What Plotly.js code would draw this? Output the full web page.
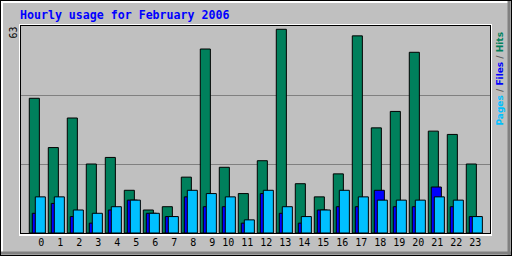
<!DOCTYPE html>
<html>
<head>
<meta charset="utf-8">
<script src="https://cdn.plot.ly/plotly-3.0.1.min.js"></script>
<style>html,body{margin:0;padding:0;background:#C0C0C0;}#chart{width:512px;height:256px;}</style>
</head>
<body>
<div id="chart"></div>
<script>
// Data
var hours = [0,1,2,3,4,5,6,7,8,9,10,11,12,13,14,15,16,17,18,19,20,21,22,23];
var hourLabels = hours.map(function(h){ return h >= 10 ? h + '\u00a0' : String(h); });
var hits  = [41,26,35,21,23,13,7,8,17,56,20,12,22,62,15,11,18,60,32,37,55,31,30,21];
var files = [6,9,5,3,7,10,6,5,11,8,8,3,12,6,3,7,8,8,13,8,8,14,8,5];
var pages = [11,11,7,6,8,10,6,5,13,12,11,4,13,8,5,7,13,11,10,10,10,11,10,5];
var maxLabel = '63';
var gridVals = [21, 42];

// geometry helpers (pixel -> paper)
var L = 20, R = 490, T = 25, B = 233;
function px(X){ return (X - L) / (R - L); }
function py(Y){ return (B - Y) / (B - T); }
function hline(y, x0, x1, c, w){ return {type:'line', xref:'paper', yref:'paper', x0:px(x0), x1:px(x1), y0:py(y), y1:py(y), line:{color:c, width:w||1}, layer:'above'}; }
function vline(x, y0, y1, c, w){ return {type:'line', xref:'paper', yref:'paper', x0:px(x), x1:px(x), y0:py(y0), y1:py(y1), line:{color:c, width:w||1}, layer:'above'}; }

var shapes = [
  // outer frame
  hline(0.5, 0, 512, '#000000'), vline(0.5, 0, 256, '#000000'),
  hline(2, 1, 510, '#FFFFFF', 2), vline(2, 1, 254, '#FFFFFF', 2),
  hline(253, 1, 511, '#808080', 3), vline(509, 1, 255, '#808080', 3),
  hline(255.5, 0, 512, '#000000'), vline(511.5, 0, 256, '#000000'),
  // plot frame
  hline(24.5, 19, 492, '#FFFFFF'), vline(19.5, 24, 236, '#FFFFFF'),
  hline(235, 19, 492, '#FFFFFF', 2), vline(491.5, 24, 236, '#FFFFFF'),
  hline(25.5, 20, 491, '#000000'), vline(20.5, 25, 234, '#000000'),
  hline(233.5, 20, 491, '#000000'), vline(490.5, 25, 234, '#000000')
];

var W = 0.53;
var traces = [
  {type:'bar', x:hours, y:hits, offset:-0.632, width:W, marker:{color:'#00805C', line:{color:'#000000', width:1}}, name:'Hits'},
  {type:'bar', x:hours, y:files, offset:-0.474, width:W, marker:{color:'#0000FF', line:{color:'#000000', width:1}}, name:'Files'},
  {type:'bar', x:hours, y:pages, offset:-0.316, width:W, marker:{color:'#00C0FF', line:{color:'#000000', width:1}}, name:'Pages'}
];

var layout = {
  width:512, height:256,
  margin:{l:L, r:512-R, t:T, b:256-B, pad:0},
  paper_bgcolor:'#C0C0C0', plot_bgcolor:'#C0C0C0',
  barmode:'overlay', showlegend:false,
  title:{text:'Hourly usage for February 2006', font:{family:'DejaVu Sans Mono', size:11.6, color:'#0000FF', weight:'bold'},
         x:20/512, xref:'container', xanchor:'left', y:1-15/256, yref:'container', yanchor:'middle'},
  xaxis:{range:[-21.3/19, -21.3/19 + 470/19], tickvals:hours, ticktext:hourLabels, tickangle:0, ticklabelstandoff:2,
         showgrid:false, zeroline:false, showline:false, ticks:'',
         tickfont:{family:'DejaVu Sans Mono', size:10, color:'#000000'}, fixedrange:true},
  yaxis:{range:[0, 208/(138/42)], tickvals:gridVals, showticklabels:false, showgrid:true, gridcolor:'#808080', gridwidth:1,
         zeroline:false, showline:false, ticks:'', fixedrange:true},
  shapes:shapes,
  annotations:[
    {text:maxLabel, xref:'paper', yref:'paper', x:px(13.5), y:py(33), textangle:-90, showarrow:false,
     font:{family:'DejaVu Sans Mono', size:10, color:'#000000'}, xanchor:'center', yanchor:'middle'},
    {text:'<span style="color:#00C0FF">Pages</span><span style="color:#606060"> / </span><span style="color:#0000FF">Files</span><span style="color:#606060"> / </span><span style="color:#00805C">Hits</span>',
     xref:'paper', yref:'paper', x:px(499.5), y:py(78), textangle:-90, showarrow:false,
     font:{family:'DejaVu Sans', size:9, color:'#000000', weight:'bold'}, xanchor:'center', yanchor:'middle'}
  ]
};

Plotly.newPlot('chart', traces, layout, {displayModeBar:false, staticPlot:true});
</script>
</body>
</html>
